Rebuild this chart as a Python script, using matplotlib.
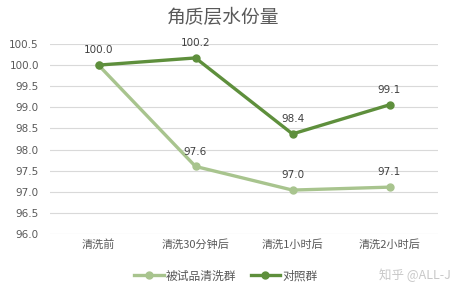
import matplotlib
matplotlib.use("Agg")
import matplotlib.pyplot as plt
from matplotlib.ticker import MultipleLocator, FormatStrFormatter

plt.rcParams['font.family'] = ['Noto Sans CJK SC', 'DejaVu Sans']

categories = ["清洗前", "清洗30分钟后", "清洗1小时后", "清洗2小时后"]
test_group = [100.0, 97.6, 97.04, 97.11]
control_group = [100.0, 100.17, 98.37, 99.06]
test_labels = [None, "97.6", "97.0", "97.1"]
control_labels = ["100.0", "100.2", "98.4", "99.1"]
series_names = ["被试品清洗群", "对照群"]
title = "角质层水份量"

light = "#a8c48e"
dark = "#5e8f3c"
txt = "#595959"

fig = plt.figure(figsize=(4.53, 2.92), dpi=100)
ax = fig.add_axes([50/453, 1-234/292, 388/453, 190/292])
x = list(range(len(categories)))
ax.plot(x, test_group, color=light, lw=2.4, marker='o', ms=5, label=series_names[0], zorder=3)
ax.plot(x, control_group, color=dark, lw=2.4, marker='o', ms=5, label=series_names[1], zorder=4)

for xi, v, s in zip(x, test_group, test_labels):
    if s:
        ax.annotate(s, (xi, v), xytext=(0, 7), textcoords='offset points', ha='center', va='bottom', fontsize=7.5, color="#404040", family=['DejaVu Sans'])
for xi, v, s in zip(x, control_group, control_labels):
    ax.annotate(s, (xi, v), xytext=(0, 7), textcoords='offset points', ha='center', va='bottom', fontsize=7.5, color="#404040", family=['DejaVu Sans'])

ax.set_xlim(-0.5, len(categories)-0.5)
ax.set_ylim(96.0, 100.5)
ax.yaxis.set_major_locator(MultipleLocator(0.5))
ax.yaxis.set_major_formatter(FormatStrFormatter('%.1f'))
ax.grid(axis='y', color='#d9d9d9', lw=0.8)
ax.set_axisbelow(True)
for sp in ax.spines.values():
    sp.set_visible(False)
ax.tick_params(axis='y', length=0, colors=txt, labelsize=7.5, pad=8)
ax.tick_params(axis='x', length=0, colors=txt, labelsize=8, pad=4)
ax.set_xticks(x)
ax.set_xticklabels(categories)
for lab in ax.get_yticklabels():
    lab.set_family(['DejaVu Sans'])

fig.text(223/453, 1-17/292, title, ha='center', va='center', fontsize=13.5, color=txt)
leg = fig.legend(loc='center', bbox_to_anchor=(226/453, 1-276/292), ncol=2, frameon=False,
                 fontsize=8.5, handlelength=2.5, columnspacing=1.2, handletextpad=0.2)
for t in leg.get_texts():
    t.set_color(txt)
fig.text(451/453, 1-275/292, "知乎 @ALL-J", ha='right', va='center', fontsize=9, color='#c8c8c8')
fig.savefig("out.png", dpi=100, facecolor='white')
